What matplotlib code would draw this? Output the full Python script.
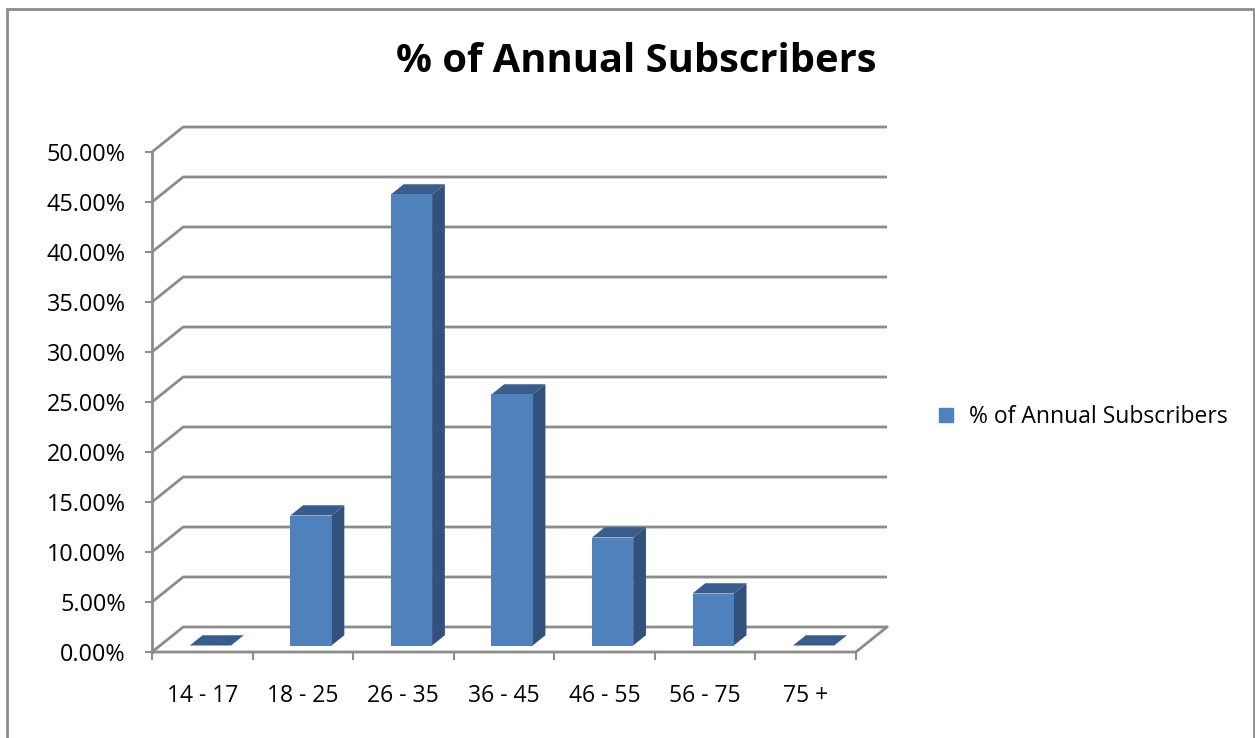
import matplotlib.pyplot as plt
from matplotlib.patches import Polygon, Rectangle
from matplotlib.lines import Line2D
from matplotlib.ticker import PercentFormatter, FixedLocator, NullFormatter

# =================================
# DATA
# =================================

categories = ["14 - 17", "18 - 25", "26 - 35", "36 - 45", "46 - 55", "56 - 75", "75 +"]
values = [0.0, 13.0, 45.1, 25.1, 10.8, 5.2, 0.0]
series_name = "% of Annual Subscribers"
title = "% of Annual Subscribers"
y_ticks = [0, 5, 10, 15, 20, 25, 30, 35, 40, 45, 50]

# =================================
# 3D LOOK (oblique projection)
# =================================

DX = 0.31   # x shift for full depth (category units)
DY = 2.5    # y shift for full depth (percent units)
BAR_W = 0.41
D_FRONT = 0.26
D_BACK = 0.67

FRONT = "#4f81bd"
SIDE = "#32527d"
TOP = "#385d8c"
GRID = "#8c8c8c"


def proj(x, y, d):
    return (x + d * DX, y + d * DY)


plt.rcParams["font.family"] = ["Open Sans", "DejaVu Sans"]

fig = plt.figure(figsize=(12.55, 7.38), dpi=100)

W, H = 1255, 738
n = len(categories)
ymax = y_ticks[-1]

ax = fig.add_axes([152 / W, (H - 652) / H, 735 / W, 525 / H])
ax.set_xlim(0, n + DX)
ax.set_ylim(0, ymax + DY)
ax.patch.set_alpha(0)

# =================================
# WALLS AND FLOOR
# =================================

for t in y_ticks:
    x0, y0 = proj(0, t, 0)
    x1, y1 = proj(0, t, 1)
    x2, y2 = proj(n, t, 1)
    ax.plot([x0, x1, x2], [y0, y1, y2], color=GRID, lw=2, zorder=1,
            clip_on=False, solid_capstyle="butt")

# floor front edge and right edge
fx = [proj(0, 0, 0)[0], proj(n, 0, 0)[0], proj(n, 0, 1)[0]]
fy = [proj(0, 0, 0)[1], proj(n, 0, 0)[1], proj(n, 0, 1)[1]]
ax.plot(fx, fy, color=GRID, lw=2, zorder=1, clip_on=False)

# =================================
# BARS
# =================================

for i, v in enumerate(values):
    xl = i + 0.5 - BAR_W / 2
    xr = i + 0.5 + BAR_W / 2

    top = [proj(xl, v, D_FRONT), proj(xr, v, D_FRONT),
           proj(xr, v, D_BACK), proj(xl, v, D_BACK)]
    ax.add_patch(Polygon(top, closed=True, facecolor=TOP,
                         edgecolor="none", zorder=3, clip_on=False))

    if v > 0:
        side = [proj(xr, 0, D_FRONT), proj(xr, 0, D_BACK),
                proj(xr, v, D_BACK), proj(xr, v, D_FRONT)]
        ax.add_patch(Polygon(side, closed=True, facecolor=SIDE,
                             edgecolor="none", zorder=3, clip_on=False))
        fx0, fy0 = proj(xl, 0, D_FRONT)
        ax.add_patch(Rectangle((fx0, fy0), BAR_W, v, facecolor=FRONT,
                               edgecolor="none", zorder=4, clip_on=False))

# =================================
# AXES AND TICKS
# =================================

for s in ["top", "right", "bottom"]:
    ax.spines[s].set_visible(False)

ax.spines["left"].set_color(GRID)
ax.spines["left"].set_linewidth(2)
ax.spines["left"].set_bounds(0, ymax)

ax.set_yticks(y_ticks)
ax.yaxis.set_major_formatter(PercentFormatter(decimals=2))
ax.tick_params(axis="y", direction="out", length=5, width=1.5,
               color=GRID, pad=14, labelsize=16.8)

ax.xaxis.set_major_locator(FixedLocator(range(n + 1)))
ax.xaxis.set_major_formatter(NullFormatter())
ax.xaxis.set_minor_locator(FixedLocator([i + 0.5 for i in range(n)]))
ax.set_xticklabels(categories, minor=True)
ax.tick_params(axis="x", which="major", direction="out", length=6,
               width=1.5, color=GRID)
ax.tick_params(axis="x", which="minor", length=0, pad=23, labelsize=16.5)

# =================================
# TITLE, LEGEND, BORDER
# =================================

fig.text(636 / W, 1 - 62 / H, title, ha="center", va="center",
         fontsize=28.7, fontweight="bold")

handle = Line2D([], [], marker="s", linestyle="none", markersize=10,
                markerfacecolor=FRONT, markeredgecolor=FRONT)
fig.legend([handle], [series_name], loc="center left",
           bbox_to_anchor=(912 / W, 1 - 417 / H), frameon=False,
           fontsize=16.5, handletextpad=0.0, borderpad=0)

fig.add_artist(Rectangle((6.5 / W, -0.05), 1247 / W, 1 - 9 / H + 0.05,
                         transform=fig.transFigure, fill=False,
                         edgecolor="#8c8c8c", lw=2))

plt.savefig("out.png", dpi=100)
